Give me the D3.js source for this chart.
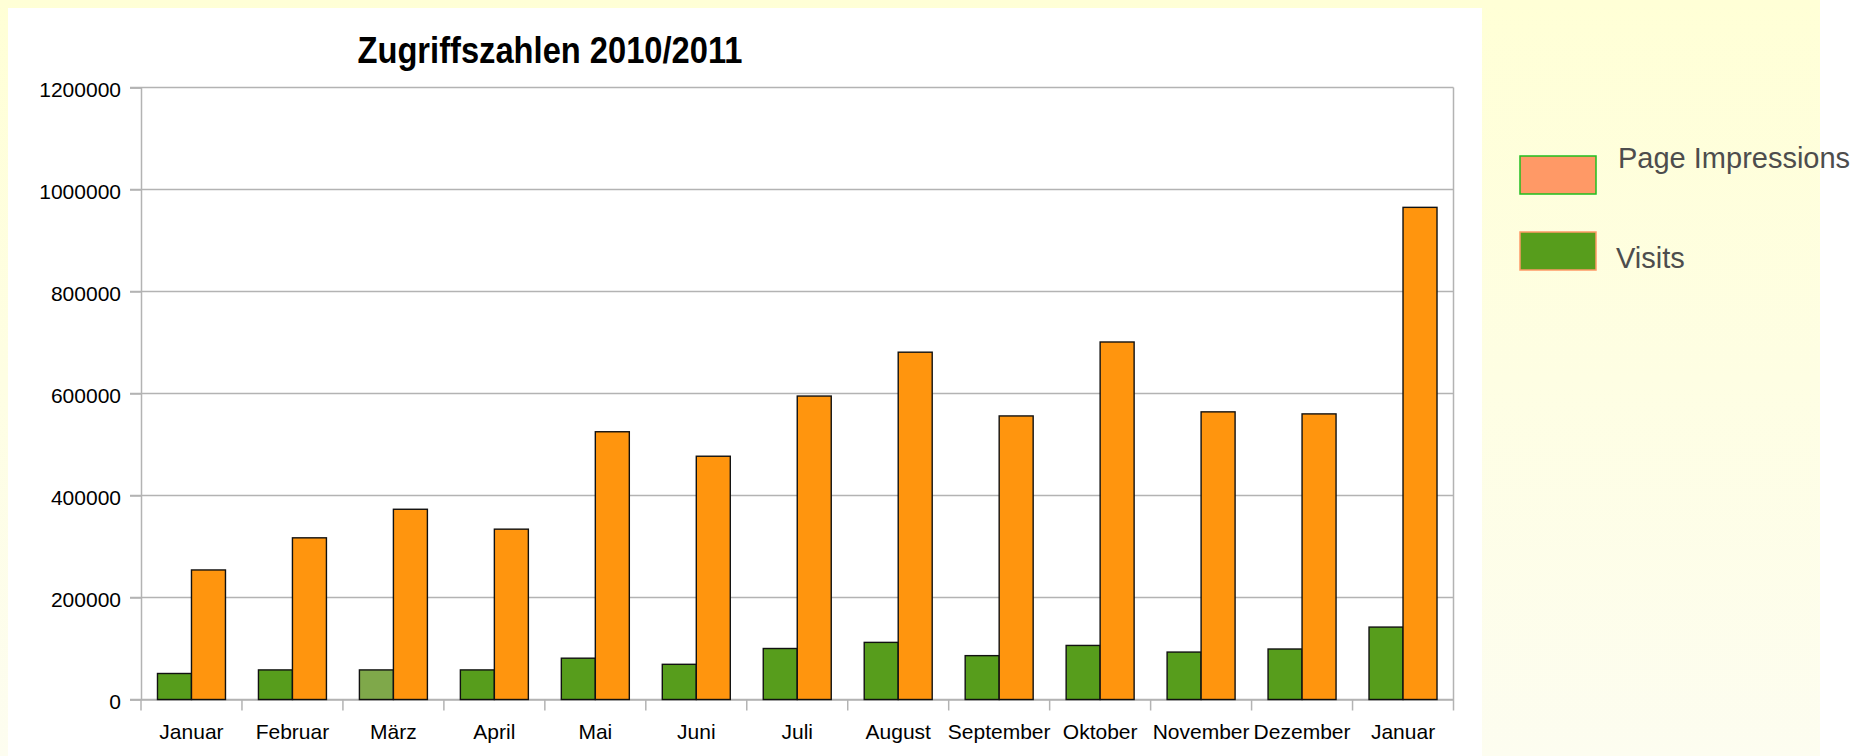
<!DOCTYPE html>
<html>
<head>
<meta charset="utf-8">
<script src="https://cdn.jsdelivr.net/npm/d3@7"></script>
<style>
  body { margin: 0; background: #fff; }
  svg { display: block; font-family: "Liberation Sans", Arial, sans-serif; }
</style>
</head>
<body>
<svg width="1875" height="756"></svg>
<script>
// data
var months = ["Januar", "Februar", "März", "April", "Mai", "Juni", "Juli",
              "August", "September", "Oktober", "November", "Dezember", "Januar "];
var visits = [51000, 58000, 58000, 58000, 81000, 69000, 100000,
              112000, 86000, 106000, 93000, 99000, 142000];
var pageImpressions = [254000, 317000, 373000, 334000, 525000, 477000, 595000,
                       681000, 556000, 701000, 564000, 560000, 965000];
var series = ["Visits", "Page Impressions"];
var yTicks = [0, 200000, 400000, 600000, 800000, 1000000, 1200000];

var svg = d3.select("svg");

// backgrounds
var defs = svg.append("defs");
var grad = defs.append("linearGradient").attr("id", "yel")
  .attr("x1", 0).attr("y1", 0).attr("x2", 0).attr("y2", 1);
grad.append("stop").attr("offset", "0%").attr("stop-color", "#ffffd6");
grad.append("stop").attr("offset", "100%").attr("stop-color", "#fdfdf0");

svg.append("rect").attr("x", 0).attr("y", 0).attr("width", 1820).attr("height", 756)
  .attr("fill", "url(#yel)");
svg.append("rect").attr("x", 8).attr("y", 8).attr("width", 1474).attr("height", 748)
  .attr("fill", "#fff");

// scales
var plotLeft = 141, plotRight = 1453.5, plotTop = 87.5, plotBottom = 699.5;

var x0 = d3.scaleBand().domain(months).range([plotLeft, plotRight]).padding(0);
var x1 = d3.scaleBand().domain(series).range([0, x0.bandwidth()])
  .paddingInner(0).paddingOuter(0.485);
var y = d3.scaleLinear().domain([0, 1200000]).range([plotBottom, plotTop]);

// gridlines
svg.append("g")
  .selectAll("line")
  .data(yTicks)
  .enter().append("line")
  .attr("x1", plotLeft - 11).attr("x2", plotRight)
  .attr("y1", function(d) { return y(d); })
  .attr("y2", function(d) { return y(d); })
  .attr("stroke", "#b3b3b3").attr("stroke-width", 1.5);

// y axis
var yAxis = svg.append("g")
  .attr("transform", "translate(" + plotLeft + ",0)")
  .call(d3.axisLeft(y).tickValues(yTicks).tickSize(11).tickPadding(9)
    .tickFormat(d3.format("d")));
yAxis.select(".domain").attr("stroke", "#b3b3b3").attr("stroke-width", 1.5);
yAxis.selectAll(".tick line").attr("stroke", "#b3b3b3").attr("stroke-width", 1.5);
yAxis.selectAll(".tick text").attr("font-size", 21).attr("fill", "#000")
  .attr("font-family", "Liberation Sans, Arial, sans-serif").attr("dy", "0.42em");

// right border of plot area
svg.append("line")
  .attr("x1", plotRight).attr("x2", plotRight)
  .attr("y1", plotTop).attr("y2", plotBottom + 11)
  .attr("stroke", "#b3b3b3").attr("stroke-width", 1.5);

// x axis: category boundary ticks + labels
var xAxis = svg.append("g")
  .attr("transform", "translate(0," + plotBottom + ")")
  .call(d3.axisBottom(x0).tickSize(0).tickPadding(25));
xAxis.select(".domain").attr("stroke", "#b3b3b3").attr("stroke-width", 1.5);
xAxis.selectAll(".tick text").attr("font-size", 21).attr("fill", "#000")
  .attr("font-family", "Liberation Sans, Arial, sans-serif")
  .text(function(d) { return d.trim(); });

svg.append("g")
  .selectAll("line")
  .data(months)
  .enter().append("line")
  .attr("x1", function(d) { return x0(d); })
  .attr("x2", function(d) { return x0(d); })
  .attr("y1", plotBottom).attr("y2", plotBottom + 11)
  .attr("stroke", "#b3b3b3").attr("stroke-width", 1.5);

// bars
var rows = months.map(function(m, i) {
  return { month: m, idx: i, values: [
    { key: "Visits", value: visits[i] },
    { key: "Page Impressions", value: pageImpressions[i] }
  ]};
});

var color = { "Visits": "#579d1c", "Page Impressions": "#ff950e" };

var groups = svg.append("g")
  .selectAll("g")
  .data(rows)
  .enter().append("g")
  .attr("transform", function(d) { return "translate(" + x0(d.month) + ",0)"; });

groups.selectAll("rect")
  .data(function(d) {
    return d.values.map(function(v) { v.idx = d.idx; return v; });
  })
  .enter().append("rect")
  .attr("x", function(d) { return x1(d.key); })
  .attr("y", function(d) { return y(d.value); })
  .attr("width", x1.bandwidth())
  .attr("height", function(d) { return plotBottom - y(d.value); })
  .attr("fill", function(d) {
    // the March visits bar is a lighter green in the original
    if (d.key === "Visits" && d.idx === 2) return "#7fa84a";
    return color[d.key];
  })
  .attr("stroke", "#111")
  .attr("stroke-width", 1.4);

// title
svg.append("text")
  .attr("x", 550).attr("y", 63)
  .attr("text-anchor", "middle")
  .attr("font-size", 36).attr("font-weight", "bold")
  .attr("textLength", 385).attr("lengthAdjust", "spacingAndGlyphs")
  .text("Zugriffszahlen 2010/2011");

// legend (colours swapped like in the original)
var legend = [
  { label: "Page Impressions", fill: "#ff9966", stroke: "#1fbf1f", y: 156, ty: 168, tx: 1618 },
  { label: "Visits", fill: "#579d1c", stroke: "#ff9966", y: 232, ty: 268, tx: 1616 }
];
var lg = svg.append("g").selectAll("g").data(legend).enter().append("g");
lg.append("rect")
  .attr("x", 1520).attr("y", function(d) { return d.y; })
  .attr("width", 76).attr("height", 38)
  .attr("fill", function(d) { return d.fill; })
  .attr("stroke", function(d) { return d.stroke; })
  .attr("stroke-width", 1.5);
lg.append("text")
  .attr("x", function(d) { return d.tx; })
  .attr("y", function(d) { return d.ty; })
  .attr("font-size", 29).attr("fill", "#4d4d4d")
  .text(function(d) { return d.label; });
</script>
</body>
</html>
